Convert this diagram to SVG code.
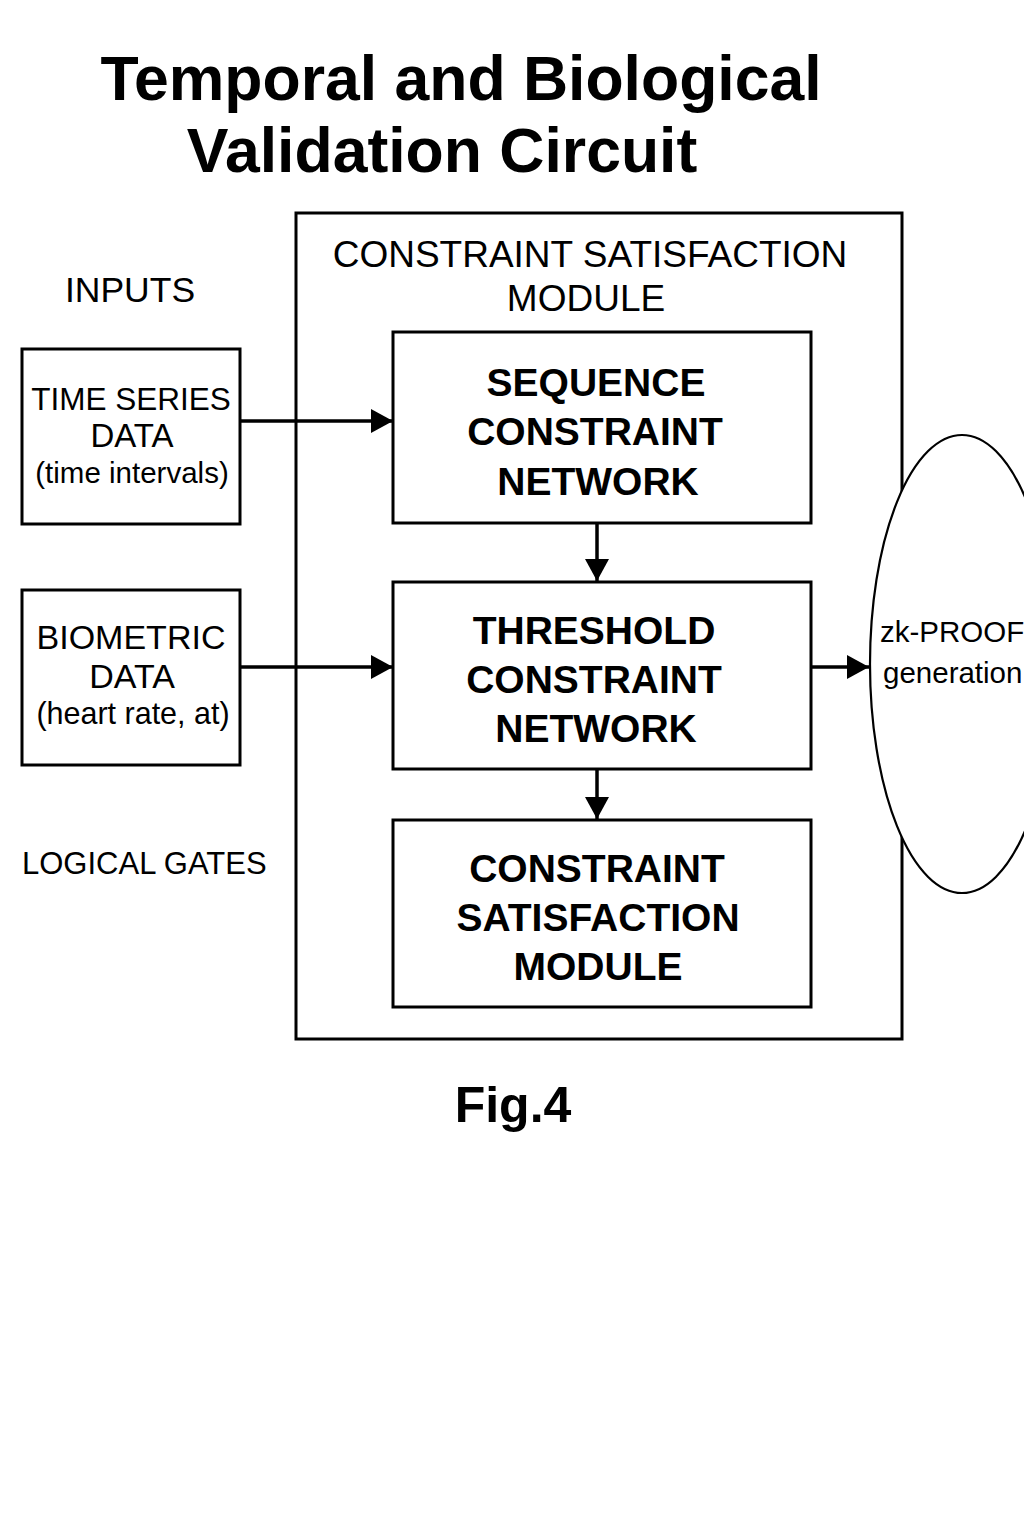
<svg xmlns="http://www.w3.org/2000/svg" width="1024" height="1536" viewBox="0 0 1024 1536">
<style>
.box{fill:#fff;stroke:#000;stroke-width:3}
.t{font-family:"Liberation Sans",Arial,sans-serif;fill:#000;text-anchor:middle}
.b{font-weight:bold}
.conn{stroke:#000;stroke-width:3.5;fill:none}
</style>
<defs>
<marker id="ah" markerUnits="userSpaceOnUse" markerWidth="24" markerHeight="26" refX="22" refY="12" orient="auto">
<path d="M0,0 L22,12 L0,24 Z" fill="#000"/>
</marker>
</defs>
<rect width="1024" height="1536" fill="#fff"/>
<g id="title">
<text class="t b" x="461" y="100" font-size="62.5">Temporal and Biological</text>
<text class="t b" x="442" y="172" font-size="62.5">Validation Circuit</text>
</g>
<g id="inputs-label"><text class="t" x="130" y="302" font-size="35.5">INPUTS</text></g>
<g id="outer-module">
<rect class="box" x="296" y="213" width="606" height="826"/>
<text class="t" x="590" y="267" font-size="37">CONSTRAINT SATISFACTION</text>
<text class="t" x="586" y="311" font-size="37">MODULE</text>
</g>
<g id="time-series">
<rect class="box" x="22" y="349" width="218" height="175"/>
<text class="t" x="131" y="410" font-size="31.5">TIME SERIES</text>
<text class="t" x="132" y="447" font-size="33">DATA</text>
<text class="t" x="132" y="483" font-size="29.5">(time intervals)</text>
</g>
<g id="biometric">
<rect class="box" x="22" y="590" width="218" height="175"/>
<text class="t" x="131" y="649" font-size="34">BIOMETRIC</text>
<text class="t" x="132" y="688" font-size="34">DATA</text>
<text class="t" x="133" y="724" font-size="30.5">(heart rate, at)</text>
</g>
<g id="logical-gates"><text class="t" x="22" y="874" font-size="31" style="text-anchor:start">LOGICAL GATES</text></g>
<g id="sequence">
<rect class="box" x="393" y="332" width="418" height="191"/>
<text class="t b" x="596" y="396" font-size="39">SEQUENCE</text>
<text class="t b" x="595" y="445" font-size="39">CONSTRAINT</text>
<text class="t b" x="598" y="495" font-size="39">NETWORK</text>
</g>
<g id="threshold">
<rect class="box" x="393" y="582" width="418" height="187"/>
<text class="t b" x="594" y="644" font-size="39">THRESHOLD</text>
<text class="t b" x="594" y="693" font-size="39">CONSTRAINT</text>
<text class="t b" x="596" y="742" font-size="39">NETWORK</text>
</g>
<g id="csm">
<rect class="box" x="393" y="820" width="418" height="187"/>
<text class="t b" x="597" y="882" font-size="39">CONSTRAINT</text>
<text class="t b" x="598" y="931" font-size="39">SATISFACTION</text>
<text class="t b" x="598" y="980" font-size="39">MODULE</text>
</g>
<g id="zk-proof">
<ellipse cx="962" cy="664" rx="92" ry="229" fill="#fff" stroke="#000" stroke-width="2.2"/>
<text class="t" x="880" y="642" font-size="29.5" style="text-anchor:start">zk-PROOF</text>
<text class="t" x="883" y="683" font-size="29.5" style="text-anchor:start">generation</text>
</g>
<g id="connectors">
<line class="conn" x1="240" y1="421" x2="393" y2="421" marker-end="url(#ah)"/>
<line class="conn" x1="240" y1="667" x2="393" y2="667" marker-end="url(#ah)"/>
<line class="conn" x1="597" y1="523" x2="597" y2="581" marker-end="url(#ah)"/>
<line class="conn" x1="597" y1="769" x2="597" y2="819" marker-end="url(#ah)"/>
<line class="conn" x1="811" y1="667" x2="869" y2="667" marker-end="url(#ah)"/>
</g>
<g id="caption"><text class="t b" x="513" y="1122" font-size="50">Fig.4</text></g>
</svg>
